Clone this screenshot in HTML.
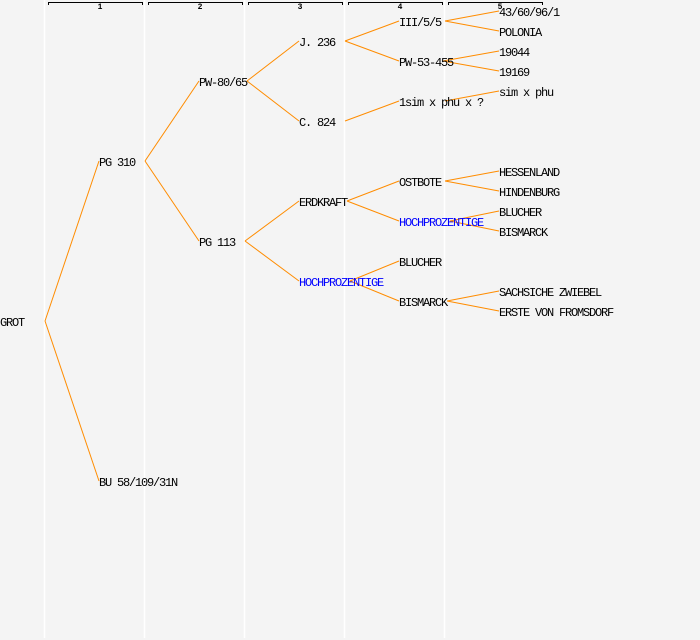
<!DOCTYPE html>
<html><head><meta charset="utf-8"><style>
html,body{margin:0;padding:0;background:#f4f4f4;}
svg{display:block;}
text{font-family:"Liberation Mono",monospace;font-size:12px;letter-spacing:-1.2px;fill:#000;}
.b{fill:#0000ff;}
.h{font-size:8px;font-weight:bold;letter-spacing:0;}
line.e{stroke:#ff8c00;stroke-width:1;}
</style></head><body>
<svg width="700" height="640" xmlns="http://www.w3.org/2000/svg">
<rect width="700" height="640" fill="#f4f4f4"/>
<g stroke="#ffffff" stroke-width="1.5">
<line x1="44.5" y1="0" x2="44.5" y2="638"/>
<line x1="144.5" y1="0" x2="144.5" y2="638"/>
<line x1="244.5" y1="0" x2="244.5" y2="638"/>
<line x1="344.5" y1="0" x2="344.5" y2="638"/>
<line x1="444.5" y1="0" x2="444.5" y2="638"/>
</g>
<g stroke="#000" stroke-width="1" fill="none">
<path d="M48.5 5V2.5H142.5V5"/>
<path d="M148.5 5V2.5H242.5V5"/>
<path d="M248.5 5V2.5H342.5V5"/>
<path d="M348.5 5V2.5H442.5V5"/>
<path d="M448.5 5V2.5H542.5V5"/>
</g>
<text class="h" x="100" y="9" text-anchor="middle">1</text>
<text class="h" x="200" y="9" text-anchor="middle">2</text>
<text class="h" x="300" y="9" text-anchor="middle">3</text>
<text class="h" x="400" y="9" text-anchor="middle">4</text>
<text class="h" x="500" y="9" text-anchor="middle">5</text>
<g>
<line class="e" x1="45" y1="321" x2="99" y2="161"/>
<line class="e" x1="45" y1="321" x2="99" y2="481"/>
<line class="e" x1="145" y1="161" x2="199" y2="81"/>
<line class="e" x1="145" y1="161" x2="199" y2="241"/>
<line class="e" x1="247" y1="81" x2="299" y2="41"/>
<line class="e" x1="247" y1="81" x2="299" y2="121"/>
<line class="e" x1="245" y1="241" x2="299" y2="201"/>
<line class="e" x1="245" y1="241" x2="299" y2="281"/>
<line class="e" x1="345" y1="41" x2="399" y2="21"/>
<line class="e" x1="345" y1="41" x2="399" y2="61"/>
<line class="e" x1="345" y1="121" x2="399" y2="101"/>
<line class="e" x1="347" y1="201" x2="399" y2="181"/>
<line class="e" x1="347" y1="201" x2="399" y2="221"/>
<line class="e" x1="350" y1="281" x2="399" y2="261"/>
<line class="e" x1="350" y1="281" x2="399" y2="301"/>
<line class="e" x1="445" y1="21" x2="499" y2="11"/>
<line class="e" x1="445" y1="21" x2="499" y2="31"/>
<line class="e" x1="443" y1="61" x2="499" y2="51"/>
<line class="e" x1="443" y1="61" x2="499" y2="71"/>
<line class="e" x1="445" y1="101" x2="499" y2="91"/>
<line class="e" x1="445" y1="181" x2="499" y2="171"/>
<line class="e" x1="445" y1="181" x2="499" y2="191"/>
<line class="e" x1="450" y1="221" x2="499" y2="211"/>
<line class="e" x1="450" y1="221" x2="499" y2="231"/>
<line class="e" x1="447" y1="301" x2="499" y2="291"/>
<line class="e" x1="447" y1="301" x2="499" y2="311"/>
</g>
<text x="0" y="326">GROT</text>
<text x="99" y="166">PG 310</text>
<text x="99" y="486">BU 58/109/31N</text>
<text x="199" y="86">PW-80/65</text>
<text x="199" y="246">PG 113</text>
<text x="299" y="46">J. 236</text>
<text x="299" y="126">C. 824</text>
<text x="299" y="206">ERDKRAFT</text>
<text class="b" x="299" y="286">HOCHPROZENTIGE</text>
<text x="399" y="26">III/5/5</text>
<text x="399" y="66">PW-53-455</text>
<text x="399" y="106">1sim x phu x ?</text>
<text x="399" y="186">OSTBOTE</text>
<text class="b" x="399" y="226">HOCHPROZENTIGE</text>
<text x="399" y="266">BLUCHER</text>
<text x="399" y="306">BISMARCK</text>
<text x="499" y="16">43/60/96/1</text>
<text x="499" y="36">POLONIA</text>
<text x="499" y="56">19044</text>
<text x="499" y="76">19169</text>
<text x="499" y="96">sim x phu</text>
<text x="499" y="176">HESSENLAND</text>
<text x="499" y="196">HINDENBURG</text>
<text x="499" y="216">BLUCHER</text>
<text x="499" y="236">BISMARCK</text>
<text x="499" y="296">SACHSICHE ZWIEBEL</text>
<text x="499" y="316">ERSTE VON FROMSDORF</text>
</svg>
</body></html>
